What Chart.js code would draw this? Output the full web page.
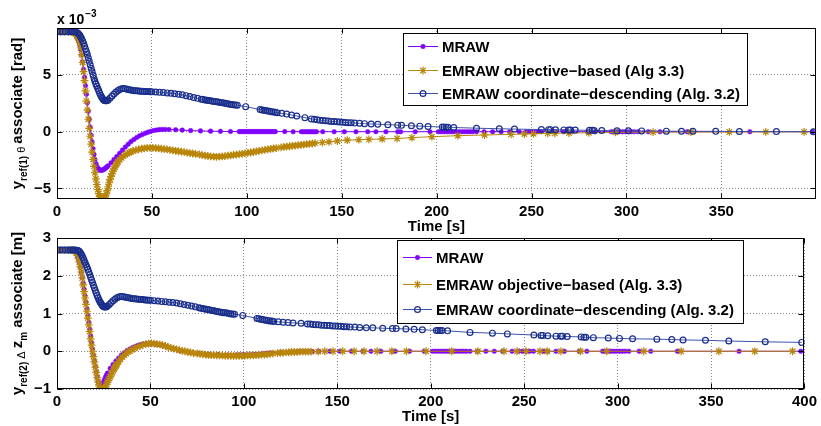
<!DOCTYPE html>
<html><head><meta charset="utf-8">
<script src="https://cdn.jsdelivr.net/npm/chart.js@4.4.0/dist/chart.umd.min.js"></script>
<style>
html,body{margin:0;padding:0;background:#fff;}
#wrap{position:relative;width:821px;height:426px;overflow:hidden;background:#fff;}
#c1{position:absolute;left:0;top:0;}
#c2{position:absolute;left:0;top:215px;}
</style></head><body>
<div id="wrap"><canvas id="c1" width="821" height="240"></canvas><canvas id="c2" width="821" height="211"></canvas></div>
<script>
// ---------------- DATA (time [s], value) ----------------
// top panel: y_ref(1) theta associate, in units of 1e-3 rad
const mrawTheta = [[0,8.8],[2,8.8],[4,8.8],[6,8.8],[8,8.8],[9,8.75],[9.5,8.65],[10,8.55],[10.5,8.4],[11,8.2],[11.5,7.95],[12,7.65],[12.5,7.25],[13,6.75],[13.5,6.15],[14,5.5],[14.5,4.8],[15,4.05],[15.5,3.3],[16,2.55],[16.5,1.8],[17,1.1],[17.5,0.4],[18,-0.3],[18.5,-0.9],[19,-1.5],[19.5,-2.0],[20,-2.45],[20.5,-2.8],[21,-3.05],[21.5,-3.2],[22,-3.3],[22.5,-3.37],[23,-3.4],[23.5,-3.4],[24,-3.38],[24.5,-3.34],[25,-3.28],[25.5,-3.22],[26,-3.15],[26.5,-3.08],[27,-3.0],[28.5,-2.73],[30,-2.46],[31.5,-2.19],[33,-1.9],[34.5,-1.62],[36,-1.35],[37.5,-1.1],[39,-0.87],[40.5,-0.68],[42,-0.51],[43.5,-0.36],[45,-0.24],[46.5,-0.13],[48,-0.04],[49.5,0.04],[51,0.11],[52.5,0.15],[54,0.18],[55.5,0.19],[57,0.2],[59,0.19],[62.5,0.17],[66,0.14],[70.4,0.1],[75.6,0.07],[80.9,0.05],[86.1,0.03],[91.4,0.02],[96,0.01],[97,0.01],[98,0.01],[99,0.01],[100,0.01],[101,0.01],[102,0.01],[103,0.01],[104,0.01],[105,0.01],[106,0.01],[107,0.01],[108,0.01],[109,0.01],[110,0.01],[111,0.01],[112,0.01],[113,0.01],[114,0.01],[115,0.01],[120,0.01],[124.4,0],[128.7,0],[129.7,0],[130.7,0],[131.7,0],[132.7,0],[133.7,0],[134.7,0],[135.7,0],[136.7,0],[140,0],[146,0],[151.4,0],[157.5,0],[163.7,0],[168,0],[173.3,0],[179.5,0],[181,0],[188.7,0],[196.5,0],[201,0],[202.5,0],[204,0],[205.5,0],[207,0],[208.5,0],[210,0],[211.5,0],[213,0],[214.5,0],[216,0],[217.5,0],[219,0],[221,0],[225,0],[229.5,0],[234,0],[238.5,0],[243.5,0],[247,0],[249,0],[251,0],[253,0],[255,0],[260.5,0],[262.5,0],[267,0],[271.5,0],[279.5,0],[283.5,0],[292,0],[293.5,0],[295,0],[296.5,0],[298,0],[299.5,0],[301,0],[302.5,0],[304,0],[306,0],[311.5,0],[317.7,0],[332,0],[365,0],[398,0]];
const objTheta = [[0,8.8],[2,8.8],[4,8.8],[6,8.8],[7.5,8.8],[8.5,8.78],[9,8.74],[9.5,8.68],[10,8.6],[10.5,8.45],[11,8.3],[11.5,8.1],[12,7.85],[12.5,7.4],[13,6.8],[13.5,6.1],[14,5.3],[14.5,4.5],[15,3.6],[15.5,2.7],[16,1.9],[16.5,1.1],[17,0.3],[17.5,-0.4],[18,-1.1],[18.5,-1.8],[19,-2.45],[19.5,-3.05],[20,-3.6],[20.5,-4.15],[21,-4.65],[21.5,-5.1],[22,-5.45],[22.5,-5.72],[23,-5.88],[23.5,-5.93],[24,-5.92],[24.5,-5.87],[25,-5.78],[25.5,-5.65],[26,-5.48],[26.5,-5.2],[27,-4.85],[27.5,-4.5],[28,-4.2],[28.5,-3.93],[29,-3.7],[29.5,-3.48],[30,-3.28],[30.5,-3.1],[31,-2.95],[31.5,-2.8],[32,-2.67],[33,-2.47],[34,-2.3],[35,-2.15],[36,-2.03],[37,-1.93],[38,-1.84],[39,-1.77],[40,-1.71],[41.5,-1.63],[43,-1.56],[44.5,-1.5],[46,-1.46],[47.5,-1.43],[49,-1.42],[50.5,-1.43],[52,-1.45],[53.5,-1.47],[55,-1.5],[56.5,-1.53],[58,-1.56],[59.5,-1.6],[61,-1.64],[62.5,-1.68],[64,-1.72],[65.5,-1.76],[67,-1.8],[68.5,-1.84],[70,-1.88],[71.5,-1.92],[73,-1.96],[75,-2.01],[76.5,-2.06],[78,-2.1],[79.5,-2.14],[81,-2.17],[82.5,-2.2],[84,-2.21],[85.5,-2.2],[87,-2.18],[88.5,-2.15],[90,-2.11],[91.5,-2.08],[93,-2.05],[94.5,-2.02],[96,-1.98],[97.5,-1.95],[99,-1.91],[100.5,-1.87],[102,-1.83],[103.5,-1.79],[105,-1.74],[106.5,-1.69],[108,-1.65],[109.5,-1.6],[111,-1.56],[112.5,-1.52],[114,-1.48],[115.5,-1.44],[118,-1.38],[119.5,-1.34],[121,-1.31],[122.5,-1.28],[124,-1.25],[125.5,-1.22],[127,-1.19],[128.5,-1.16],[130,-1.13],[131.5,-1.1],[133,-1.07],[134.5,-1.04],[136,-1.01],[139.8,-0.95],[143.3,-0.89],[147.7,-0.82],[152.9,-0.75],[159,-0.7],[164.3,-0.67],[171.3,-0.64],[179.2,-0.6],[187,-0.52],[197.5,-0.44],[211.2,-0.35],[225.2,-0.29],[239.2,-0.23],[246.2,-0.2],[251,-0.18],[258.5,-0.15],[262.3,-0.14],[269.7,-0.12],[280.2,-0.09],[294.2,-0.06],[314,-0.04],[334,-0.03],[354.2,-0.02],[373.4,-0.01],[393.6,-0.01]];
const coordTheta = [[0,8.8],[1.5,8.8],[3,8.8],[4.5,8.8],[6,8.8],[7,8.8],[8,8.8],[9,8.8],[10,8.78],[11,8.7],[11.5,8.6],[12,8.5],[12.5,8.35],[13,8.2],[13.5,8.0],[14,7.8],[14.5,7.55],[15,7.3],[15.5,7.05],[16,6.8],[16.5,6.5],[17,6.2],[17.5,5.9],[18,5.6],[18.5,5.3],[19,5.0],[19.5,4.7],[20,4.45],[20.5,4.2],[21,4.0],[21.5,3.8],[22,3.6],[22.5,3.4],[23,3.22],[23.5,3.05],[24,2.92],[24.5,2.82],[25,2.76],[25.5,2.72],[26,2.72],[26.5,2.75],[27,2.82],[28,2.98],[29,3.15],[30,3.32],[31,3.48],[32,3.62],[33,3.72],[34,3.78],[35,3.8],[36,3.78],[37,3.74],[38,3.7],[39,3.67],[40,3.64],[41,3.62],[42,3.6],[43,3.58],[44,3.57],[45,3.56],[46,3.55],[47,3.54],[48,3.54],[49,3.53],[50,3.52],[52,3.5],[54,3.48],[56,3.45],[58,3.42],[60,3.39],[62,3.35],[64,3.3],[66,3.25],[68,3.18],[70,3.1],[72,3.02],[74,2.94],[76,2.86],[77,2.83],[78,2.79],[79,2.77],[80,2.74],[81,2.72],[82,2.69],[83,2.66],[84,2.64],[85,2.61],[86,2.58],[87,2.55],[88,2.52],[89,2.49],[90,2.46],[91,2.43],[92,2.4],[93,2.37],[94,2.35],[95,2.33],[99.4,2.21],[107,1.95],[108,1.92],[109,1.89],[110,1.86],[111,1.83],[112,1.8],[113,1.77],[114,1.74],[115,1.71],[116,1.68],[118.4,1.62],[121,1.55],[123.6,1.47],[126.3,1.38],[130.6,1.24],[134,1.13],[135.5,1.09],[137,1.05],[138.5,1.02],[140,0.99],[141.5,0.96],[143,0.94],[144.5,0.91],[146,0.89],[147.5,0.87],[149,0.85],[150.5,0.83],[152,0.81],[153.5,0.8],[155,0.78],[156.8,0.76],[159.4,0.74],[162,0.71],[165.5,0.68],[169,0.66],[174.3,0.62],[179.5,0.58],[181.5,0.56],[186.7,0.52],[191.1,0.49],[195.5,0.46],[203,0.41],[204,0.4],[205,0.4],[206,0.39],[209,0.37],[221,0.31],[233,0.26],[241,0.23],[255.2,0.19],[259,0.18],[260,0.18],[262.6,0.17],[267,0.16],[269.5,0.15],[270.5,0.15],[273,0.14],[280.5,0.12],[282,0.12],[283,0.11],[287,0.1],[295,0.09],[301,0.08],[308,0.07],[321,0.05],[329,0.04],[335,0.04],[347,0.03],[359.5,0.02],[379,0.01],[398.5,0.0]];

// bottom panel: y_ref(2) delta z_m associate [m]
const mrawDz = [[0,2.68],[2,2.68],[4,2.68],[6,2.68],[8,2.68],[9,2.67],[9.5,2.65],[10,2.62],[10.5,2.57],[11,2.51],[11.5,2.43],[12,2.33],[12.5,2.22],[13,2.09],[13.5,1.95],[14,1.8],[14.5,1.64],[15,1.47],[15.5,1.3],[16,1.12],[16.5,0.94],[17,0.76],[17.5,0.58],[18,0.4],[18.5,0.23],[19,0.06],[19.5,-0.1],[20,-0.26],[20.5,-0.41],[21,-0.55],[21.5,-0.68],[22,-0.8],[22.5,-0.89],[23,-0.95],[23.5,-0.96],[24,-0.92],[24.5,-0.86],[25,-0.8],[25.5,-0.74],[26,-0.68],[26.5,-0.63],[27,-0.58],[28.5,-0.45],[30,-0.35],[31.5,-0.26],[33,-0.18],[34.5,-0.1],[36,-0.04],[37.5,0.02],[39,0.06],[40.5,0.1],[42,0.13],[43.5,0.16],[45,0.18],[46.5,0.19],[48,0.2],[49.5,0.2],[51,0.2],[52.5,0.19],[54,0.18],[55.5,0.17],[57,0.15],[59,0.12],[62.5,0.06],[66,0.01],[70.4,-0.03],[75.6,-0.06],[80.9,-0.08],[86.1,-0.09],[91.4,-0.1],[96,-0.1],[97,-0.1],[98,-0.1],[99,-0.1],[100,-0.1],[101,-0.1],[102,-0.1],[103,-0.1],[104,-0.1],[105,-0.09],[106,-0.09],[107,-0.09],[108,-0.08],[109,-0.08],[110,-0.07],[111,-0.07],[112,-0.06],[113,-0.06],[114,-0.05],[115,-0.05],[120,-0.03],[124.4,-0.02],[128.7,-0.01],[129.7,-0.01],[130.7,-0.01],[131.7,-0.01],[132.7,-0.01],[133.7,-0.01],[134.7,-0.01],[135.7,-0.01],[136.7,-0.01],[140,0],[146,0],[151.4,0],[157.5,0],[163.7,0],[168,0],[173.3,0],[179.5,0],[181,0],[188.7,0],[196.5,0],[201,0],[202.5,0],[204,0],[205.5,0],[207,0],[208.5,0],[210,0],[211.5,0],[213,0],[214.5,0],[216,0],[217.5,0],[219,0],[221,0],[225,0],[229.5,0],[234,0],[238.5,0],[243.5,0],[247,0],[249,0],[251,0],[253,0],[255,0],[260.5,0],[262.5,0],[267,0],[271.5,0],[279.5,0],[283.5,0],[292,0],[293.5,0],[295,0],[296.5,0],[298,0],[299.5,0],[301,0],[302.5,0],[304,0],[306,0],[311.5,0],[317.7,0],[332,0],[365,0],[398,0]];
const objDz = [[0,2.68],[2,2.68],[4,2.68],[6,2.68],[7.5,2.68],[8.5,2.68],[9,2.67],[9.5,2.66],[10,2.64],[10.5,2.6],[11,2.54],[11.5,2.46],[12,2.36],[12.5,2.24],[13,2.1],[13.5,1.94],[14,1.76],[14.5,1.58],[15,1.41],[15.5,1.24],[16,1.06],[16.5,0.88],[17,0.7],[17.5,0.52],[18,0.33],[18.5,0.16],[19,0.0],[19.5,-0.14],[20,-0.28],[20.5,-0.42],[21,-0.56],[21.5,-0.7],[22,-0.82],[22.5,-0.92],[23,-0.98],[23.5,-1.01],[24,-1.02],[24.5,-1.02],[25,-1.0],[25.5,-0.97],[26,-0.93],[26.5,-0.88],[27,-0.82],[27.5,-0.77],[28,-0.72],[28.5,-0.67],[29,-0.62],[29.5,-0.57],[30,-0.52],[30.5,-0.47],[31,-0.43],[31.5,-0.39],[32,-0.35],[33,-0.28],[34,-0.21],[35,-0.15],[36,-0.1],[37,-0.06],[38,-0.02],[39,0.01],[40,0.04],[41.5,0.08],[43,0.11],[44.5,0.14],[46,0.17],[47.5,0.19],[49,0.2],[50.5,0.21],[52,0.2],[53.5,0.19],[55,0.18],[56.5,0.16],[58,0.14],[59.5,0.11],[61,0.09],[62.5,0.07],[64,0.05],[65.5,0.03],[67,0.01],[68.5,0.0],[70,-0.02],[71.5,-0.03],[73,-0.05],[75,-0.06],[76.5,-0.07],[78,-0.08],[79.5,-0.09],[81,-0.1],[82.5,-0.1],[84,-0.1],[85.5,-0.11],[87,-0.11],[88.5,-0.11],[90,-0.12],[91.5,-0.12],[93,-0.12],[94.5,-0.12],[96,-0.12],[97.5,-0.12],[99,-0.12],[100.5,-0.12],[102,-0.11],[103.5,-0.11],[105,-0.11],[106.5,-0.1],[108,-0.1],[109.5,-0.09],[111,-0.09],[112.5,-0.08],[114,-0.07],[115.5,-0.06],[118,-0.05],[119.5,-0.04],[121,-0.04],[122.5,-0.03],[124,-0.03],[125.5,-0.02],[127,-0.02],[128.5,-0.02],[130,-0.01],[131.5,-0.01],[133,-0.01],[134.5,-0.01],[136,-0.01],[139.8,-0.01],[143.3,0],[147.7,0],[152.9,0],[159,0],[164.3,0],[171.3,0],[179.2,0],[187,0],[197.5,0],[211.2,0],[225.2,0],[239.2,0],[246.2,0],[251,0],[258.5,0],[262.3,0],[269.7,0],[280.2,0],[294.2,0],[314,0],[334,0],[354.2,0],[373.4,0],[393.6,0]];
const coordDz = [[0,2.68],[1.5,2.68],[3,2.68],[4.5,2.68],[6,2.68],[7,2.68],[8,2.68],[9,2.68],[10,2.68],[11,2.67],[11.5,2.66],[12,2.64],[12.5,2.61],[13,2.57],[13.5,2.52],[14,2.47],[14.5,2.41],[15,2.35],[15.5,2.29],[16,2.23],[16.5,2.17],[17,2.1],[17.5,2.03],[18,1.96],[18.5,1.89],[19,1.82],[19.5,1.75],[20,1.68],[20.5,1.61],[21,1.54],[21.5,1.48],[22,1.42],[22.5,1.36],[23,1.31],[23.5,1.27],[24,1.23],[24.5,1.2],[25,1.18],[25.5,1.17],[26,1.17],[26.5,1.18],[27,1.2],[28,1.24],[29,1.29],[30,1.34],[31,1.38],[32,1.42],[33,1.44],[34,1.45],[35,1.45],[36,1.44],[37,1.43],[38,1.42],[39,1.41],[40,1.4],[41,1.39],[42,1.39],[43,1.38],[44,1.38],[45,1.37],[46,1.37],[47,1.36],[48,1.36],[49,1.35],[50,1.35],[52,1.34],[54,1.33],[56,1.32],[58,1.31],[60,1.3],[62,1.29],[64,1.28],[66,1.26],[68,1.24],[70,1.22],[72,1.2],[74,1.18],[76,1.15],[77,1.14],[78,1.13],[79,1.12],[80,1.11],[81,1.1],[82,1.09],[83,1.08],[84,1.07],[85,1.06],[86,1.05],[87,1.04],[88,1.03],[89,1.02],[90,1.02],[91,1.01],[92,1.0],[93,0.99],[94,0.99],[95,0.98],[99.4,0.95],[107,0.87],[108,0.86],[109,0.85],[110,0.84],[111,0.83],[112,0.82],[113,0.81],[114,0.8],[115,0.8],[116,0.79],[118.4,0.78],[121,0.77],[123.6,0.76],[126.3,0.75],[130.6,0.74],[134,0.72],[135.5,0.72],[137,0.71],[138.5,0.7],[140,0.7],[141.5,0.69],[143,0.69],[144.5,0.68],[146,0.68],[147.5,0.67],[149,0.67],[150.5,0.66],[152,0.66],[153.5,0.65],[155,0.65],[156.8,0.64],[159.4,0.64],[162,0.63],[165.5,0.62],[169,0.62],[174.3,0.61],[179.5,0.6],[181.5,0.6],[186.7,0.59],[191.1,0.58],[195.5,0.57],[203,0.55],[204,0.55],[205,0.55],[206,0.55],[209,0.54],[221,0.5],[233,0.48],[241,0.46],[255.2,0.43],[259,0.42],[260,0.42],[262.6,0.41],[267,0.4],[269.5,0.4],[270.5,0.4],[273,0.39],[280.5,0.38],[282,0.37],[283,0.37],[287,0.36],[295,0.35],[301,0.34],[308,0.33],[321,0.32],[329,0.31],[335,0.3],[347,0.29],[359.5,0.27],[379,0.25],[398.5,0.235]];

// tick labels / legend labels
const xTicksTop = [0,50,100,150,200,250,300,350];
const xTicksBottom = [0,50,100,150,200,250,300,350,400];
const thetaTicks = [-5,0,5];
const dzTicks = [-1,0,1,2,3];
const legendTop = ['MRAW','EMRAW objective\u2212based (Alg 3.3)','EMRAW coordinate\u2212descending (Alg. 3.2)'];
const legendBottom = ['MRAW','EMRAW objective\u2212based (Alg. 3.3)','EMRAW coordinate\u2212descending (Alg. 3.2)'];

// ---------------- STYLE ----------------
const FONT = '"Liberation Sans", Arial, Helvetica, sans-serif';
const C = {mraw:'#8000ff', obj:'#b8860b', coordLine:'#3d52a8', coordMark:'#1a2e8c', grid:'#8a8a8a'};
const fmt = v => (v < 0 ? '\u2212' + Math.abs(v) : String(v));

function makeDatasets(mraw, obj, coord, names){
  const base = {type:'line', tension:0, fill:false, pointHoverRadius:0, borderWidth:1};
  return [
    Object.assign({}, base, {label:names[0], data:mraw, order:3, borderColor:C.mraw, backgroundColor:C.mraw,
      pointStyle:'circle', pointRadius:2.3, pointBorderWidth:0.5, pointBackgroundColor:C.mraw, pointBorderColor:C.mraw}),
    Object.assign({}, base, {label:names[1], data:obj, order:2, borderColor:C.obj, backgroundColor:C.obj,
      pointStyle:'star', pointRadius:3.9, pointBorderWidth:1.2, pointBackgroundColor:C.obj, pointBorderColor:C.obj}),
    Object.assign({}, base, {label:names[2], data:coord, order:1, borderColor:C.coordLine, backgroundColor:'rgba(0,0,0,0)',
      pointStyle:'circle', pointRadius:2.9, pointBorderWidth:1.2, pointBackgroundColor:'rgba(0,0,0,0)', pointBorderColor:C.coordMark})
  ];
}

function drawMarker(ctx, ds, x, y){
  ctx.save();
  ctx.lineWidth = ds.pointBorderWidth; ctx.strokeStyle = ds.pointBorderColor; ctx.fillStyle = ds.pointBackgroundColor;
  const r = ds.pointRadius;
  if (ds.pointStyle === 'star'){
    ctx.beginPath();
    for (let k=0;k<4;k++){ const a = k*Math.PI/4; ctx.moveTo(x - r*Math.cos(a), y - r*Math.sin(a)); ctx.lineTo(x + r*Math.cos(a), y + r*Math.sin(a)); }
    ctx.stroke();
  } else {
    ctx.beginPath(); ctx.arc(x, y, r, 0, Math.PI*2); ctx.fill(); ctx.stroke();
  }
  ctx.restore();
}

const matlabFrame = {
  id:'matlabFrame',
  afterDatasetsDraw(chart, args, o){
    const {ctx, chartArea:a, scales:{x, y}} = chart;
    ctx.save();
    ctx.strokeStyle = '#000'; ctx.lineWidth = 1;
    const l = Math.round(a.left)+0.5, r = Math.round(a.right)-0.5, t = Math.round(a.top)+0.5, b = Math.round(a.bottom)-0.5;
    const L = 5;
    ctx.beginPath();
    x.ticks.forEach(tk => { const p = Math.round(x.getPixelForValue(tk.value))+0.5; ctx.moveTo(p,t); ctx.lineTo(p,t+L); ctx.moveTo(p,b); ctx.lineTo(p,b-L); });
    y.ticks.forEach(tk => { const p = Math.round(y.getPixelForValue(tk.value))+0.5; ctx.moveTo(l,p); ctx.lineTo(l+L,p); ctx.moveTo(r,p); ctx.lineTo(r-L,p); });
    ctx.stroke();
    ctx.strokeRect(l, t, r-l, b-t);
    // legend box
    const g = o.legend;
    ctx.fillStyle = '#fff'; ctx.fillRect(g.x, g.y, g.w, g.h);
    ctx.strokeStyle = '#000'; ctx.strokeRect(g.x+0.5, g.y+0.5, g.w, g.h);
    chart.data.datasets.forEach((ds, i) => {
      const yy = g.rows[i] + 0.5;
      ctx.strokeStyle = ds.borderColor; ctx.lineWidth = 1;
      ctx.beginPath(); ctx.moveTo(g.x0, yy); ctx.lineTo(g.x1, yy); ctx.stroke();
      drawMarker(ctx, ds, (g.x0+g.x1)/2, yy);
      ctx.fillStyle = '#000'; ctx.font = 'bold 15px ' + FONT; ctx.textAlign = 'left'; ctx.textBaseline = 'middle';
      ctx.fillText(ds.label, g.tx, yy + 1);
    });
    ctx.restore();
  },
  afterDraw(chart, args, o){
    const {ctx, chartArea:a} = chart;
    ctx.save();
    ctx.fillStyle = '#000';
    // rotated y label made of rich pieces
    const cy = (a.top + a.bottom)/2;
    ctx.translate(o.ylabelX, cy); ctx.rotate(-Math.PI/2);
    let total = 0;
    o.ylabel.forEach(p => { ctx.font = p.font; p.w = ctx.measureText(p.text).width; total += p.w; });
    let xx = -total/2; ctx.textAlign = 'left'; ctx.textBaseline = 'alphabetic';
    o.ylabel.forEach(p => { ctx.font = p.font; ctx.fillText(p.text, xx, p.dy || 0); xx += p.w; });
    ctx.restore();
    if (o.exponent){
      ctx.save(); ctx.fillStyle = '#000'; ctx.textAlign = 'left'; ctx.textBaseline = 'alphabetic';
      ctx.font = 'bold 14px ' + FONT; ctx.fillText('x 10', o.exponent.x, o.exponent.y);
      const w = ctx.measureText('x 10').width;
      ctx.font = 'bold 10px ' + FONT; ctx.fillText('\u22123', o.exponent.x + w + 1, o.exponent.y - 7);
      ctx.restore();
    }
  }
};

function tickFont(){ return {family:FONT, size:15, weight:'bold'}; }

function makeChart(canvasId, cfg){
  return new Chart(document.getElementById(canvasId), {
    type:'line',
    data:{datasets: cfg.datasets},
    plugins:[matlabFrame],
    options:{
      responsive:false, animation:false, events:[],
      layout:{padding:cfg.padding},
      scales:{
        x:{type:'linear', min:0, max:cfg.xmax,
          afterBuildTicks: s => { s.ticks = cfg.xticks.map(v => ({value:v})); },
          afterFit: s => { s.height = cfg.xAxisHeight; },
          ticks:{autoSkip:false, maxRotation:0, padding:cfg.xTickPad, color:'#000', font:tickFont(), callback:v => fmt(v)},
          grid:{color:C.grid, lineWidth:1, drawTicks:false},
          border:{display:false, dash:[1,2]},
          title:{display:true, text:'Time [s]', color:'#000', font:tickFont(), padding:{top:0, bottom:cfg.xTitlePad}}
        },
        y:{type:'linear', min:cfg.ymin, max:cfg.ymax,
          afterBuildTicks: s => { s.ticks = cfg.yticks.map(v => ({value:v})); },
          afterFit: s => { s.width = 57; },
          ticks:{autoSkip:false, padding:6, color:'#000', font:tickFont(), callback:v => fmt(v)},
          grid:{color:C.grid, lineWidth:1, drawTicks:false},
          border:{display:false, dash:[1,2]}
        }
      },
      plugins:{
        legend:{display:false}, tooltip:{enabled:false},
        matlabFrame:{legend:cfg.legend, ylabel:cfg.ylabel, ylabelX:cfg.ylabelX, exponent:cfg.exponent}
      }
    }
  });
}

makeChart('c1', {
  datasets: makeDatasets(mrawTheta, objTheta, coordTheta, legendTop),
  padding:{left:0, right:2, top:28, bottom:0},
  xmax:399.8, xticks:xTicksTop, xAxisHeight:41, xTickPad:4, xTitlePad:4,
  ymin:-5.93, ymax:9.14, yticks:thetaTicks,
  legend:{x:403, y:33, w:344, h:72, rows:[46,70,93], x0:408, x1:438, tx:442},
  ylabelX:22,
  ylabel:[
    {text:'y', font:'bold 15px '+FONT},
    {text:'ref(1)', font:'bold 10px '+FONT, dy:5},
    {text:' \u03b8 ', font:'11px '+FONT, dy:3},
    {text:'associate [rad]', font:'bold 15px '+FONT}
  ],
  exponent:{x:57, y:24}
});

makeChart('c2', {
  datasets: makeDatasets(mrawDz, objDz, coordDz, legendBottom),
  padding:{left:0, right:13, top:23, bottom:0},
  xmax:400, xticks:xTicksBottom, xAxisHeight:37, xTickPad:4, xTitlePad:0,
  ymin:-1, ymax:3, yticks:dzTicks,
  legend:{x:397, y:25, w:346, h:83, rows:[42,69,94], x0:403, x1:432, tx:436},
  ylabelX:22,
  ylabel:[
    {text:'y', font:'bold 15px '+FONT},
    {text:'ref(2)', font:'bold 10px '+FONT, dy:5},
    {text:' \u0394 ', font:'11px '+FONT, dy:3},
    {text:'z', font:'bold 15px '+FONT},
    {text:'m', font:'bold 10px '+FONT, dy:5},
    {text:' associate [m]', font:'bold 15px '+FONT}
  ],
  exponent:null
});
</script>
</body></html>
